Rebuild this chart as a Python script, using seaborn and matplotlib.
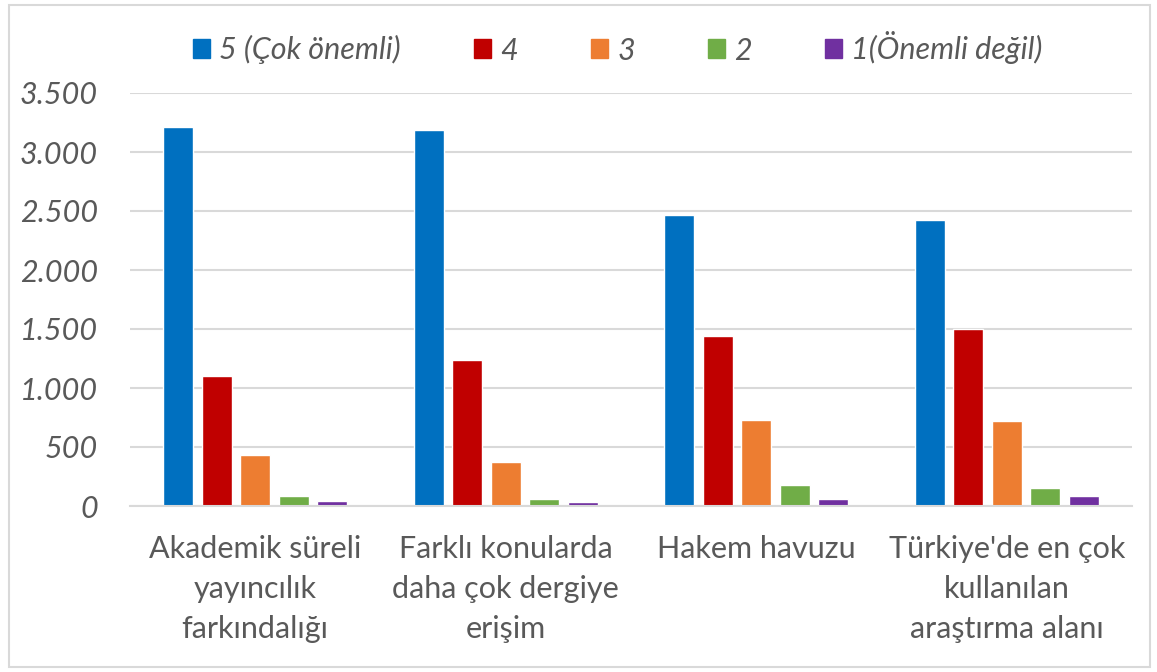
import matplotlib
matplotlib.use("Agg")
import matplotlib.pyplot as plt
import matplotlib.font_manager as fm
from matplotlib.patches import Patch, Rectangle
from matplotlib.ticker import FuncFormatter
import seaborn as sns
import pandas as pd

categories = [
    "Akademik süreli\nyayıncılık\nfarkındalığı",
    "Farklı konularda\ndaha çok dergiye\nerişim",
    "Hakem havuzu",
    "Türkiye'de en çok\nkullanılan\naraştırma alanı",
]
series_names = ["5 (Çok önemli)", "4", "3", "2", "1(Önemli değil)"]
v5 = [3214, 3183, 2469, 2421]
v4 = [1099, 1234, 1444, 1503]
v3 = [428, 369, 727, 718]
v2 = [87, 59, 175, 155]
v1 = [42, 34, 59, 85]
colors = ["#0070C0", "#C00000", "#ED7D31", "#70AD47", "#7030A0"]
yticks = [0, 500, 1000, 1500, 2000, 2500, 3000, 3500]

rows = []
for name, vals in zip(series_names, [v5, v4, v3, v2, v1]):
    for c, v in zip(categories, vals):
        rows.append({"category": c, "rating": name, "value": v})
df = pd.DataFrame(rows)

sns.set_theme(style="white")

def pick_font():
    for fam in ["Liberation Sans Narrow", "Lato", "Open Sans"]:
        try:
            fm.findfont(fm.FontProperties(family=fam), fallback_to_default=False)
            return fam
        except Exception:
            pass
    return "DejaVu Sans"

fam = pick_font()
plt.rcParams["font.family"] = [fam, "DejaVu Sans"]
text_color = "#595959"
fs = 22

fig = plt.figure(figsize=(11.57, 6.72), dpi=100)
ax = fig.add_axes([130 / 1157, 1 - 506 / 672, (1132 - 130) / 1157, (506 - 93) / 672])

sns.barplot(data=df, x="category", y="value", hue="rating", order=categories,
            hue_order=series_names, palette=colors, width=0.77, gap=0.22,
            saturation=1, ax=ax, legend=False, errorbar=None)

ax.set_ylim(0, 3500)
ax.set_xlim(-0.5, 3.5)
ax.set_yticks(yticks)
ax.yaxis.set_major_formatter(FuncFormatter(lambda v, p: f"{int(v):,}".replace(",", ".")))
ax.grid(axis="y", color="#d9d9d9", linewidth=1.5)
ax.set_axisbelow(True)
for s in ["left", "right", "top"]:
    ax.spines[s].set_visible(False)
ax.spines["bottom"].set_color("#d9d9d9")
ax.spines["bottom"].set_linewidth(1.5)
ax.set_xlabel("")
ax.set_ylabel("")
ax.tick_params(axis="y", length=0, pad=23, labelsize=fs, labelcolor=text_color)
ax.tick_params(axis="x", length=0, pad=21, labelsize=fs, labelcolor=text_color)
for t in ax.get_yticklabels():
    t.set_fontstyle("italic")
for t in ax.get_xticklabels():
    t.set_linespacing(1.52)

handles = [Patch(facecolor=c, edgecolor=c) for c in colors]
leg = fig.legend(handles, series_names, loc="center", bbox_to_anchor=(618 / 1157, 1 - 48 / 672),
                 ncol=5, frameon=False, fontsize=fs, handlelength=0.55, handleheight=0.55,
                 handletextpad=0.3, columnspacing=2.4)
for t in leg.get_texts():
    t.set_fontstyle("italic")
    t.set_color(text_color)

fig.patches.append(Rectangle((9 / 1157, 5 / 672), 1141 / 1157, 662 / 672, transform=fig.transFigure,
                             fill=False, edgecolor="#d9d9d9", linewidth=1.5))

fig.savefig("out.png", dpi=100)
